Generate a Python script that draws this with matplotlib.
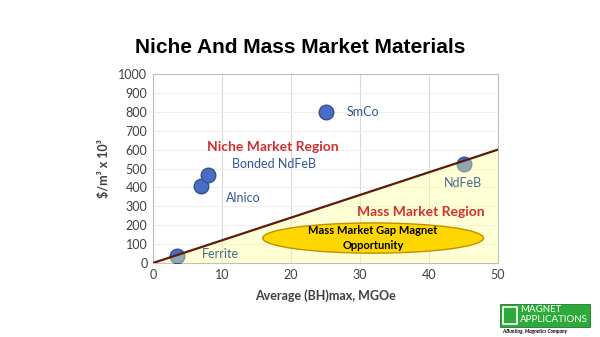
import matplotlib
matplotlib.use("Agg")
import matplotlib.pyplot as plt
from matplotlib.patches import Polygon, Ellipse, Rectangle

plt.rcParams['font.family'] = ['Lato', 'DejaVu Sans']

# Data
materials = ["Ferrite", "Alnico", "Bonded NdFeB", "SmCo", "NdFeB"]
bh_max = [3.5, 7, 8, 25, 45]
cost = [35, 410, 465, 800, 525]
label_x = [7.1, 10.6, 11.4, 28.1, 42.2]
label_y = [48, 344, 524, 800, 423]

boundary_x = [0, 50]
boundary_y = [0, 600]

xticks = [0, 10, 20, 30, 40, 50]
yticks = list(range(0, 1001, 100))

fig = plt.figure(figsize=(6, 3.37), dpi=100)
ax = fig.add_axes([0.255, 0.2196, 0.575, 0.5608])

ax.set_xlim(0, 50)
ax.set_ylim(0, 1000)
ax.set_xticks(xticks)
ax.set_yticks(yticks)
ax.tick_params(length=0, labelsize=9, colors='#404040', pad=4)
ax.grid(axis='x', color='#D9D9D9', linewidth=0.8)
ax.grid(axis='y', color='#EDEDED', linewidth=0.6)
ax.set_axisbelow(True)
for s in ax.spines.values():
    s.set_color('#BFBFBF')
    s.set_linewidth(0.8)

# points
ax.scatter(bh_max, cost, s=110, color='#4A6CC6', edgecolor='#2F528F', linewidth=1.0, zorder=3)

# triangle mass market region
tri = Polygon([(0, 0), (50, 0), (50, 600)], closed=True, facecolor='#FFFF99', alpha=0.4,
              edgecolor='none', zorder=4)
ax.add_patch(tri)
ax.plot(boundary_x, boundary_y, color='#5B1A0A', linewidth=1.6, zorder=5)

# ellipse
ell = Ellipse((31.9, 132), 32, 160, facecolor='#FFD700', edgecolor='#BF9000', linewidth=1.0, zorder=6)
ax.add_patch(ell)
ax.text(31.9, 172, "Mass Market Gap Magnet", ha='center', va='center', fontsize=8,
        fontweight='bold', color='#000000', zorder=7)
ax.text(31.9, 92, "Opportunity", ha='center', va='center', fontsize=8,
        fontweight='bold', color='#000000', zorder=7)

# labels
for name, lx, ly in zip(materials, label_x, label_y):
    col = '#2E5597' if name not in ("Ferrite", "NdFeB") else '#46698E'
    ax.text(lx, ly, name, ha='left', va='center', fontsize=9, color=col, zorder=7)

ax.text(7.8, 614, "Niche Market Region", ha='left', va='center', fontsize=10,
        fontweight='bold', color='#D32F2F', zorder=7)
ax.text(29.6, 270, "Mass Market Region", ha='left', va='center', fontsize=10,
        fontweight='bold', color='#D32F2F', zorder=7)

ax.set_xlabel("Average (BH)max, MGOe", fontsize=9, fontweight='bold', color='#404040', labelpad=6)
ax.set_ylabel("$/m³ x 10³", fontsize=9, fontweight='bold', color='#404040', labelpad=6)

fig.text(0.5, 0.86, "Niche And Mass Market Materials", ha='center', va='center',
         fontsize=15, fontweight='bold', family=['Liberation Sans', 'DejaVu Sans'], color='#000000')

# logo
logo = Rectangle((500/600, 1-327/337), 90/600, 23/337, transform=fig.transFigure,
                 facecolor='#2EAA3A', edgecolor='#1E7A28', linewidth=0.6)
fig.add_artist(logo)
icon = Rectangle((503/600, 1-324/337), 14/600, 17/337, transform=fig.transFigure,
                 facecolor='none', edgecolor='white', linewidth=1.2)
fig.add_artist(icon)
fig.text(520/600, 1-310/337, "MAGNET", fontsize=7, color='white', ha='left', va='center')
fig.text(520/600, 1-320/337, "APPLICATIONS", fontsize=7, color='white', ha='left', va='center')
fig.text(502/600, 1-331/337, "A Bunting, Magnetics Company", fontsize=3.5, color='black',
         ha='left', va='center', style='italic', fontweight='bold')

fig.savefig("out.png", dpi=100)
